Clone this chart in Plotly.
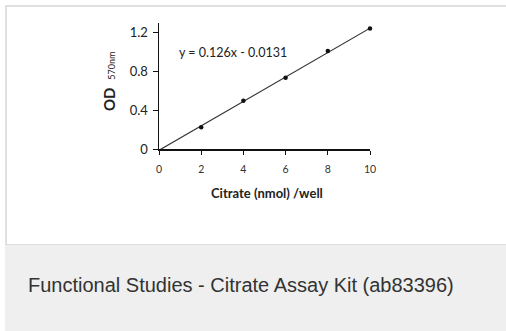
import plotly.graph_objects as go

# Data
x_points = [0, 2, 4, 6, 8, 10]
y_points = [0.0, 0.224, 0.497, 0.735, 1.012, 1.244]
slope = 0.126
intercept = -0.0131
x_ticks = [0, 2, 4, 6, 8, 10]
y_ticks = [0, 0.4, 0.8, 1.2]
y_tick_text = ["0", "0.4", "0.8", "1.2"]
equation_text = "y = 0.126x - 0.0131"
x_title = "Citrate (nmol) /well"
caption = "Functional Studies - Citrate Assay Kit (ab83396)"

W, H = 506, 331
L, R, T, B = 159, 370, 23, 149  # plot area in pixels


def px(X):
    return (X - L) / (R - L)


def py(Y):
    return (B - Y) / (B - T)


trend_x = [0, 10]
trend_y = [slope * v + intercept for v in trend_x]

fig = go.Figure()
fig.add_trace(go.Scatter(x=trend_x, y=trend_y, mode="lines",
                         line=dict(color="#333333", width=1.2), hoverinfo="skip",
                         cliponaxis=False))
fig.add_trace(go.Scatter(x=x_points[1:], y=y_points[1:], mode="markers",
                         marker=dict(color="#111111", size=4.5), cliponaxis=False))

fnt = "Lato, 'DejaVu Sans', sans-serif"
fig.update_layout(
    width=W, height=H,
    margin=dict(l=L, r=W - R, t=T, b=H - B, pad=0),
    paper_bgcolor="white", plot_bgcolor="white",
    showlegend=False,
    xaxis=dict(range=[0, 10], tickvals=x_ticks, ticktext=[str(v) for v in x_ticks],
               showgrid=False, zeroline=False, showline=True, linecolor="#111111",
               linewidth=1.5, ticks="outside", ticklen=4, tickcolor="#111111",
               tickfont=dict(family=fnt, size=10.5, color="#333333"), ticklabelstandoff=6),
    yaxis=dict(range=[0, 1.3], tickvals=y_ticks, ticktext=y_tick_text,
               showgrid=False, zeroline=False, showline=True, linecolor="#111111",
               linewidth=1.5, ticks="outside", ticklen=5, tickcolor="#111111",
               tickfont=dict(family=fnt, size=13, color="#222222"), ticklabelstandoff=2),
    shapes=[
        dict(type="rect", xref="paper", yref="paper", x0=px(5), x1=px(W), y0=py(244), y1=py(H),
             fillcolor="#eeefee", line=dict(width=0), layer="below"),
        dict(type="line", xref="paper", yref="paper", x0=px(5), x1=px(W), y0=py(244.5), y1=py(244.5),
             line=dict(color="#dedede", width=1)),
        dict(type="line", xref="paper", yref="paper", x0=px(6), x1=px(6), y0=py(5), y1=py(244),
             line=dict(color="#e0e0e0", width=2)),
        dict(type="line", xref="paper", yref="paper", x0=px(5), x1=px(W), y0=py(6), y1=py(6),
             line=dict(color="#e0e0e0", width=2)),
    ],
    annotations=[
        dict(text=equation_text, xref="paper", yref="paper", x=px(177), y=py(52.5),
             xanchor="left", yanchor="middle", showarrow=False,
             font=dict(family=fnt, size=12.5, color="#222222")),
        dict(text="<b>" + x_title + "</b>", xref="paper", yref="paper", x=px(266.5), y=py(192.5),
             xanchor="center", yanchor="middle", showarrow=False,
             font=dict(family=fnt, size=13, color="#222222")),
        dict(text="<b>OD</b>  <span style='font-size:9px'>570nm</span>", xref="paper", yref="paper",
             x=px(109), y=py(82), textangle=-90,
             xanchor="center", yanchor="middle", showarrow=False,
             font=dict(family=fnt, size=15, color="#222222")),
        dict(text=caption, xref="paper", yref="paper", x=px(26), y=py(285),
             xanchor="left", yanchor="middle", showarrow=False,
             font=dict(family="'Liberation Sans', Arial, sans-serif", size=20, color="#333333")),
    ],
)

fig.write_html("out.html", config={"displayModeBar": False, "staticPlot": True},
               post_script="document.body.style.margin='0';document.body.style.overflow='hidden';")
